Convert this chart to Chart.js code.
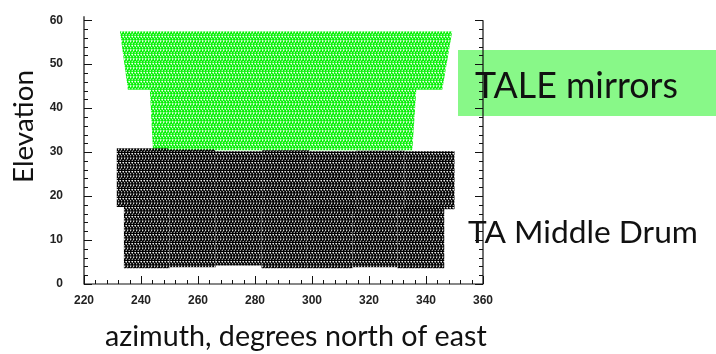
<!DOCTYPE html>
<html>
<head>
<meta charset="utf-8">
<script src="https://cdn.jsdelivr.net/npm/chart.js@4/dist/chart.umd.min.js"></script>
<style>
  html, body { margin: 0; padding: 0; background: #fff; }
  #wrap { width: 716px; height: 354px; }
</style>
</head>
<body>
<div id="wrap"><canvas id="chart" width="716" height="354"></canvas></div>
<script>
// axis ranges and tick labels
const azTicks = [220, 240, 260, 280, 300, 320, 340, 360];
const elTicks = [0, 10, 20, 30, 40, 50, 60];

// TALE mirrors field of view outline (azimuth / elevation corners)
const taleAz = [232.6, 349.2, 345.7, 336.6, 335.2, 244.2, 243.1, 235.4, 232.6];
const taleEl = [57.5, 57.5, 44.2, 44.2, 30.4, 30.4, 44.2, 44.2, 57.5];

// TA Middle Drum, ring 2 (upper) mirror edges
const md2Edges = [231.5, 249.5, 266, 282.5, 299, 315.5, 332.5, 350];
const md2Top = [30.9, 30.6, 30.2, 30.4, 30.2, 30.3, 30.2];
const md2Bottom = [17.5, 17.3, 17.3, 17.3, 17.0, 17.4, 17.0];

// TA Middle Drum, ring 1 (lower) mirror edges
const md1Edges = [234, 250, 266.2, 282.3, 298.2, 314.2, 330, 346.4];
const md1Top = [17.8, 17.7, 17.7, 17.7, 17.7, 17.7, 17.5];
const md1Bottom = [3.6, 3.8, 4.2, 3.6, 3.6, 3.8, 3.6];

// small tile of open triangles, used as fill style
const trianglePattern = (color, lw) => {
  const c = document.createElement("canvas");
  c.width = 6;
  c.height = 9;
  const g = c.getContext("2d");
  g.strokeStyle = color;
  g.lineWidth = lw;
  const tri = (x, y) => {
    g.beginPath();
    g.moveTo(x, y + 3.8);
    g.lineTo(x + 1.7, y + 0.4);
    g.lineTo(x + 3.4, y + 3.8);
    g.closePath();
    g.stroke();
  };
  for (let dx = -6; dx <= 6; dx += 6) {
    tri(dx, 0);
    tri(dx + 3, 0);
    tri(dx + 1.5, 4.5);
    tri(dx + 4.5, 4.5);
  }
  return g.createPattern(c, "repeat");
};

const greenFill = trianglePattern("#00f000", 1.1);
const blackFill = trianglePattern("#000000", 1.2);

const box = (a0, a1, b, t) => [
  { x: a0, y: b }, { x: a1, y: b }, { x: a1, y: t }, { x: a0, y: t }, { x: a0, y: b },
];

const datasets = [];
const mirrorSet = (data, fill) => ({
  data: data,
  showLine: true,
  fill: "shape",
  backgroundColor: fill,
  borderColor: "rgba(0,0,0,0)",
  borderWidth: 0,
  pointRadius: 0,
  tension: 0,
});

for (let i = 0; i < md1Top.length; i++) {
  datasets.push(mirrorSet(box(md1Edges[i], md1Edges[i + 1], md1Bottom[i], md1Top[i]), blackFill));
}
for (let i = 0; i < md2Top.length; i++) {
  datasets.push(mirrorSet(box(md2Edges[i], md2Edges[i + 1], md2Bottom[i], md2Top[i]), blackFill));
}
datasets.push(mirrorSet(taleAz.map((a, i) => ({ x: a, y: taleEl[i] })), greenFill));

// fit a font size so that text is a given width
const fitFont = (ctx, text, family, width) => {
  ctx.font = "100px " + family;
  return (100 * width) / ctx.measureText(text).width;
};

const decorations = {
  id: "decorations",
  beforeDraw(chart) {
    const ctx = chart.ctx;
    ctx.save();
    ctx.fillStyle = "#fff";
    ctx.fillRect(0, 0, chart.width, chart.height);
    // green label box behind the right axis
    ctx.fillStyle = "#88f888";
    ctx.fillRect(458, 50, 258, 66);
    ctx.restore();
  },
  afterDraw(chart) {
    const ctx = chart.ctx;
    const x = chart.scales.x;
    const y = chart.scales.y;
    const { left, right, top, bottom } = chart.chartArea;
    ctx.save();
    ctx.strokeStyle = "#111";
    ctx.lineWidth = 1.2;
    ctx.beginPath();
    ctx.moveTo(left, top - 4);
    ctx.lineTo(left, bottom);
    ctx.lineTo(right, bottom);
    ctx.lineTo(right, top);
    ctx.stroke();
    ctx.lineWidth = 1;
    ctx.beginPath();
    for (let v = 0; v <= 60; v += 2) {
      const py = Math.round(y.getPixelForValue(v)) + 0.5;
      const len = v % 10 === 0 ? 8 : 4;
      ctx.moveTo(left, py);
      ctx.lineTo(left + len, py);
      ctx.moveTo(right, py);
      ctx.lineTo(right - len, py);
    }
    for (let v = 220; v <= 360; v += 4) {
      const px = Math.round(x.getPixelForValue(v)) + 0.5;
      const len = (v - 220) % 20 === 0 ? 8 : 4;
      ctx.moveTo(px, bottom);
      ctx.lineTo(px, bottom - len);
    }
    ctx.stroke();

    ctx.fillStyle = "#111";
    ctx.textBaseline = "alphabetic";
    const fam = "Lato, 'Open Sans', sans-serif";
    let s = fitFont(ctx, "azimuth, degrees north of east", fam, 382);
    ctx.font = s + "px " + fam;
    ctx.textAlign = "left";
    ctx.fillText("azimuth, degrees north of east", 105, 346);

    s = fitFont(ctx, "Elevation", fam, 113);
    ctx.save();
    ctx.translate(33, 183);
    ctx.rotate(-Math.PI / 2);
    ctx.font = s + "px " + fam;
    ctx.fillText("Elevation", 0, 0);
    ctx.restore();

    s = fitFont(ctx, "TALE mirrors", fam, 203);
    ctx.font = s + "px " + fam;
    ctx.fillText("TALE mirrors", 475, 98);

    s = fitFont(ctx, "TA Middle Drum", fam, 230);
    ctx.font = s + "px " + fam;
    ctx.fillText("TA Middle Drum", 468, 243);
    ctx.restore();
  },
};

new Chart(document.getElementById("chart"), {
  type: "scatter",
  data: { datasets: datasets },
  options: {
    responsive: false,
    animation: false,
    events: [],
    layout: { padding: { top: 14, right: 233, left: 0, bottom: 0 } },
    plugins: { legend: { display: false }, tooltip: { enabled: false } },
    scales: {
      x: {
        type: "linear",
        min: azTicks[0],
        max: azTicks[azTicks.length - 1],
        afterFit: (scale) => { scale.height = 70; },
        afterBuildTicks: (scale) => { scale.ticks = azTicks.map((v) => ({ value: v })); },
        grid: { display: false },
        border: { display: false },
        ticks: { color: "#222", padding: 1, font: { family: "'Liberation Sans', Arial", size: 12, weight: "bold" } },
      },
      y: {
        type: "linear",
        min: elTicks[0],
        max: elTicks[elTicks.length - 1],
        afterFit: (scale) => { scale.width = 84; },
        afterBuildTicks: (scale) => { scale.ticks = elTicks.map((v) => ({ value: v })); },
        grid: { display: false },
        border: { display: false },
        ticks: { color: "#222", padding: 13, font: { family: "'Liberation Sans', Arial", size: 12, weight: "bold" } },
      },
    },
  },
  plugins: [decorations],
});
</script>
</body>
</html>
